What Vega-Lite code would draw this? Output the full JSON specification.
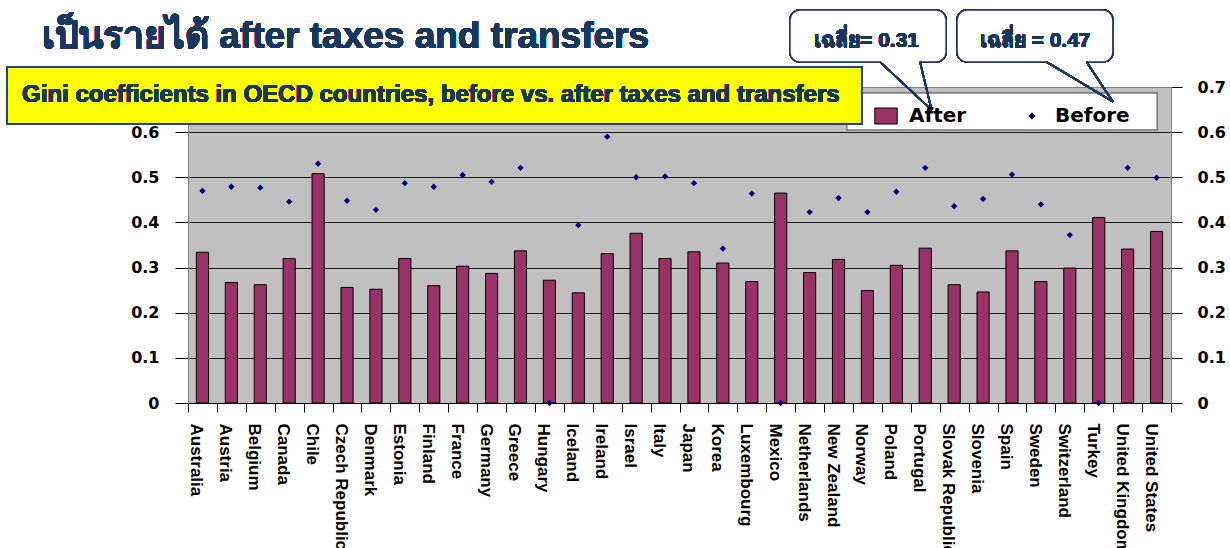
{
  "$schema": "https://vega.github.io/schema/vega-lite/v6.json",
  "width": 983,
  "height": 316,
  "autosize": {"type": "none"},
  "padding": {"left": 188, "top": 87, "right": 59, "bottom": 145},
  "background": "white",
  "config": {
    "view": {"fill": "#C0C0C0", "stroke": "#808080", "strokeWidth": 1}
  },
  "data": {
    "values": [
      {"country": "Australia", "after": 0.334, "before": 0.470},
      {"country": "Austria", "after": 0.267, "before": 0.479},
      {"country": "Belgium", "after": 0.262, "before": 0.477},
      {"country": "Canada", "after": 0.320, "before": 0.446},
      {"country": "Chile", "after": 0.508, "before": 0.530},
      {"country": "Czech Republic", "after": 0.256, "before": 0.448},
      {"country": "Denmark", "after": 0.252, "before": 0.428},
      {"country": "Estonia", "after": 0.320, "before": 0.487},
      {"country": "Finland", "after": 0.260, "before": 0.479},
      {"country": "France", "after": 0.303, "before": 0.505},
      {"country": "Germany", "after": 0.287, "before": 0.490},
      {"country": "Greece", "after": 0.337, "before": 0.521},
      {"country": "Hungary", "after": 0.272, "before": 0},
      {"country": "Iceland", "after": 0.244, "before": 0.394},
      {"country": "Ireland", "after": 0.331, "before": 0.590},
      {"country": "Israel", "after": 0.376, "before": 0.500},
      {"country": "Italy", "after": 0.320, "before": 0.502},
      {"country": "Japan", "after": 0.335, "before": 0.487},
      {"country": "Korea", "after": 0.310, "before": 0.342},
      {"country": "Luxembourg", "after": 0.269, "before": 0.464},
      {"country": "Mexico", "after": 0.465, "before": 0},
      {"country": "Netherlands", "after": 0.289, "before": 0.423},
      {"country": "New Zealand", "after": 0.318, "before": 0.454},
      {"country": "Norway", "after": 0.249, "before": 0.423},
      {"country": "Poland", "after": 0.305, "before": 0.468},
      {"country": "Portugal", "after": 0.343, "before": 0.521},
      {"country": "Slovak Republic", "after": 0.262, "before": 0.436},
      {"country": "Slovenia", "after": 0.246, "before": 0.452},
      {"country": "Spain", "after": 0.337, "before": 0.506},
      {"country": "Sweden", "after": 0.269, "before": 0.440},
      {"country": "Switzerland", "after": 0.299, "before": 0.372},
      {"country": "Turkey", "after": 0.411, "before": 0},
      {"country": "United Kingdom", "after": 0.341, "before": 0.521},
      {"country": "United States", "after": 0.380, "before": 0.499}
    ]
  },
  "layer": [
    {
      "layer": [
        {
          "mark": {"type": "bar", "width": {"band": 0.42}, "stroke": "#000000", "strokeWidth": 1},
          "encoding": {
            "x": {
              "field": "country", "type": "nominal", "sort": null,
              "scale": {"paddingInner": 0, "paddingOuter": 0},
              "axis": {
                "title": null, "labelAngle": 90, "labelAlign": "left", "labelBaseline": "middle",
                "labelFont": "Liberation Sans", "labelFontSize": 17, "labelFontWeight": "bold", "labelColor": "#000000",
                "labelOffset": -6.5, "labelPadding": 11, "labelOverlap": false, "labelLimit": 300, "labelBound": false,
                "tickBand": "extent", "tickSize": 9, "tickColor": "#000000", "tickWidth": 1,
                "domainColor": "#000000", "domainWidth": 1, "grid": false
              }
            },
            "y": {
              "field": "after", "type": "quantitative",
              "scale": {"domain": [0, 0.7], "nice": false, "zero": true},
              "axis": {
                "orient": "left", "title": null, "values": [0, 0.1, 0.2, 0.3, 0.4, 0.5, 0.6], "format": ".1~f",
                "labelFont": "DejaVu Sans", "labelFontSize": 16, "labelFontWeight": "bold", "labelColor": "#000000",
                "tickSize": 13, "tickColor": "#000000", "labelPadding": 16,
                "domainColor": "#808080", "domainWidth": 1,
                "grid": true, "gridColor": "#1a1a1a", "gridWidth": 1
              }
            },
            "color": {
              "datum": "After", "type": "nominal",
              "scale": {"domain": ["After", "Before"], "range": ["#993366", "#000080"]},
              "legend": {
                "title": null, "orient": "none", "legendX": 688, "legendY": 19, "direction": "horizontal",
                "padding": 0,
                "labelFont": "DejaVu Sans", "labelFontSize": 20, "labelFontWeight": "bold", "labelColor": "#000000",
                "symbolStrokeColor": "#000000", "symbolStrokeWidth": 1,
                "symbolOffset": 0, "labelOffset": 13, "columnPadding": 55
              }
            }
          }
        },
        {
          "mark": {"type": "point", "shape": "diamond", "filled": true, "size": 40, "opacity": 1},
          "encoding": {
            "x": {"field": "country", "type": "nominal", "sort": null},
            "y": {
              "field": "before", "type": "quantitative",
              "scale": {"domain": [0, 0.7], "nice": false, "zero": true},
              "axis": {
                "orient": "right", "title": null, "values": [0, 0.1, 0.2, 0.3, 0.4, 0.5, 0.6, 0.7], "format": ".1~f",
                "labelFont": "DejaVu Sans", "labelFontSize": 16, "labelFontWeight": "bold", "labelColor": "#000000",
                "tickSize": 11, "tickColor": "#000000", "labelPadding": 15,
                "domainColor": "#808080", "domainWidth": 1, "grid": false
              }
            },
            "color": {"datum": "Before", "type": "nominal"},
            "shape": {
              "datum": "Before", "type": "nominal",
              "scale": {"domain": ["After", "Before"], "range": ["M-1.4,-1L1.4,-1L1.4,1L-1.4,1Z", "diamond"]}
            },
            "size": {
              "datum": "Before", "type": "ordinal",
              "scale": {"domain": ["After", "Before"], "range": [256, 40]}
            }
          }
        }
      ],
      "resolve": {"axis": {"y": "independent"}}
    },
    {
      "mark": {"type": "rect", "fill": "#FFFFFF", "stroke": "#808080", "strokeWidth": 1.5},
      "encoding": {
        "x": {"datum": 22.79, "type": "quantitative", "scale": {"domain": [0, 34], "nice": false, "zero": false}, "axis": null},
        "x2": {"datum": 33.52},
        "y": {"datum": 0.6867, "type": "quantitative", "scale": {"domain": [0, 0.7], "nice": false}, "axis": null},
        "y2": {"datum": 0.6047}
      }
    },
    {
      "mark": {"type": "rect", "fill": "#FFFF00", "stroke": "#1F497D", "strokeWidth": 2},
      "encoding": {
        "x": {"datum": -6.26, "type": "quantitative", "scale": {"domain": [0, 34], "nice": false, "zero": false}, "axis": null},
        "x2": {"datum": 23.31},
        "y": {"datum": 0.7443, "type": "quantitative", "scale": {"domain": [0, 0.7], "nice": false}, "axis": null},
        "y2": {"datum": 0.618}
      }
    },
    {
      "mark": {"type": "text", "text": "Gini coefficients in OECD countries, before vs. after taxes and transfers", "align": "left", "baseline": "alphabetic", "font": "Liberation Sans", "fontSize": 24, "fontWeight": "bold", "fill": "#17375E"},
      "encoding": {
        "x": {"datum": -5.74, "type": "quantitative", "scale": {"domain": [0, 34], "nice": false, "zero": false}, "axis": null},
        "y": {"datum": 0.6674, "type": "quantitative", "scale": {"domain": [0, 0.7], "nice": false}, "axis": null}
      }
    },
    {
      "mark": {"type": "text", "text": "เป็นรายได้ after taxes and transfers", "align": "left", "baseline": "alphabetic", "font": "Liberation Sans", "fontSize": 37, "fontWeight": "bold", "fill": "#17375E"},
      "encoding": {
        "x": {"datum": -5.05, "type": "quantitative", "scale": {"domain": [0, 34], "nice": false, "zero": false}, "axis": null},
        "y": {"datum": 0.7864, "type": "quantitative", "scale": {"domain": [0, 0.7], "nice": false}, "axis": null}
      }
    },
    {
      "mark": {"type": "rect", "fill": "#FFFFFF", "stroke": "#1F3864", "strokeWidth": 1.5, "cornerRadius": 10},
      "encoding": {
        "x": {"datum": 20.82, "type": "quantitative", "scale": {"domain": [0, 34], "nice": false, "zero": false}, "axis": null},
        "x2": {"datum": 26.22},
        "y": {"datum": 0.8706, "type": "quantitative", "scale": {"domain": [0, 0.7], "nice": false}, "axis": null},
        "y2": {"datum": 0.7554}
      }
    },
    {
      "mark": {"type": "rect", "fill": "#FFFFFF", "stroke": "#1F3864", "strokeWidth": 1.5, "cornerRadius": 10},
      "encoding": {
        "x": {"datum": 26.6, "type": "quantitative", "scale": {"domain": [0, 34], "nice": false, "zero": false}, "axis": null},
        "x2": {"datum": 31.99},
        "y": {"datum": 0.8706, "type": "quantitative", "scale": {"domain": [0, 0.7], "nice": false}, "axis": null},
        "y2": {"datum": 0.7554}
      }
    },
    {
      "mark": {"type": "rule", "color": "#FFFFFF", "strokeWidth": 3},
      "encoding": {
        "x": {"datum": 23.98, "type": "quantitative", "scale": {"domain": [0, 34], "nice": false, "zero": false}, "axis": null},
        "x2": {"datum": 25.28},
        "y": {"datum": 0.7554, "type": "quantitative", "scale": {"domain": [0, 0.7], "nice": false}, "axis": null},
        "y2": {"datum": 0.7554}
      }
    },
    {
      "mark": {"type": "rule", "color": "#FFFFFF", "strokeWidth": 3},
      "encoding": {
        "x": {"datum": 29.74, "type": "quantitative", "scale": {"domain": [0, 34], "nice": false, "zero": false}, "axis": null},
        "x2": {"datum": 31.04},
        "y": {"datum": 0.7554, "type": "quantitative", "scale": {"domain": [0, 0.7], "nice": false}, "axis": null},
        "y2": {"datum": 0.7554}
      }
    },
    {
      "mark": {"type": "rule", "color": "#1F3864", "strokeWidth": 1.5},
      "encoding": {
        "x": {"datum": 23.94, "type": "quantitative", "scale": {"domain": [0, 34], "nice": false, "zero": false}, "axis": null},
        "x2": {"datum": 25.72},
        "y": {"datum": 0.7554, "type": "quantitative", "scale": {"domain": [0, 0.7], "nice": false}, "axis": null},
        "y2": {"datum": 0.649}
      }
    },
    {
      "mark": {"type": "rule", "color": "#1F3864", "strokeWidth": 1.5},
      "encoding": {
        "x": {"datum": 25.32, "type": "quantitative", "scale": {"domain": [0, 34], "nice": false, "zero": false}, "axis": null},
        "x2": {"datum": 25.72},
        "y": {"datum": 0.7554, "type": "quantitative", "scale": {"domain": [0, 0.7], "nice": false}, "axis": null},
        "y2": {"datum": 0.649}
      }
    },
    {
      "mark": {"type": "rule", "color": "#1F3864", "strokeWidth": 1.5},
      "encoding": {
        "x": {"datum": 29.7, "type": "quantitative", "scale": {"domain": [0, 34], "nice": false, "zero": false}, "axis": null},
        "x2": {"datum": 31.99},
        "y": {"datum": 0.7554, "type": "quantitative", "scale": {"domain": [0, 0.7], "nice": false}, "axis": null},
        "y2": {"datum": 0.6674}
      }
    },
    {
      "mark": {"type": "rule", "color": "#1F3864", "strokeWidth": 1.5},
      "encoding": {
        "x": {"datum": 31.08, "type": "quantitative", "scale": {"domain": [0, 34], "nice": false, "zero": false}, "axis": null},
        "x2": {"datum": 31.99},
        "y": {"datum": 0.7554, "type": "quantitative", "scale": {"domain": [0, 0.7], "nice": false}, "axis": null},
        "y2": {"datum": 0.6674}
      }
    },
    {
      "mark": {"type": "text", "text": "เฉลี่ย= 0.31", "align": "center", "baseline": "alphabetic", "font": "Liberation Sans", "fontSize": 21, "fontWeight": "bold", "fill": "#17375E"},
      "encoding": {
        "x": {"datum": 23.47, "type": "quantitative", "scale": {"domain": [0, 34], "nice": false, "zero": false}, "axis": null},
        "y": {"datum": 0.7893, "type": "quantitative", "scale": {"domain": [0, 0.7], "nice": false}, "axis": null}
      }
    },
    {
      "mark": {"type": "text", "text": "เฉลี่ย = 0.47", "align": "center", "baseline": "alphabetic", "font": "Liberation Sans", "fontSize": 21, "fontWeight": "bold", "fill": "#17375E"},
      "encoding": {
        "x": {"datum": 29.3, "type": "quantitative", "scale": {"domain": [0, 34], "nice": false, "zero": false}, "axis": null},
        "y": {"datum": 0.7893, "type": "quantitative", "scale": {"domain": [0, 0.7], "nice": false}, "axis": null}
      }
    }
  ],
  "resolve": {"scale": {"x": "independent"}, "axis": {"x": "independent", "y": "independent"}}
}
